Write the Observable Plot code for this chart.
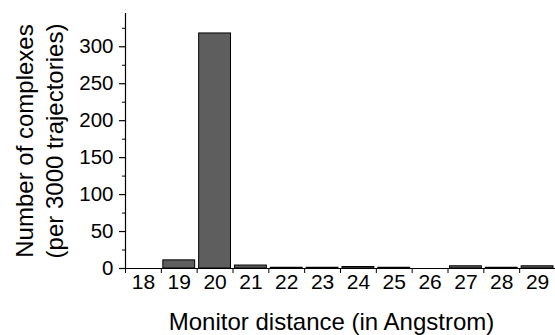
<!DOCTYPE html>
<html>
<head>
<meta charset="utf-8">
<script src="https://cdn.jsdelivr.net/npm/d3@7"></script>
<script src="https://cdn.jsdelivr.net/npm/@observablehq/plot@0.6"></script>
<style>
  html, body { margin: 0; padding: 0; background: white; }
</style>
</head>
<body>
<div id="chart"></div>
<script>
const distances = [18, 19, 20, 21, 22, 23, 24, 25, 26, 27, 28, 29];
const counts = [0, 11, 318, 4, 1, 1, 2, 1, 0, 3, 1, 3];
const yTicks = [0, 50, 100, 150, 200, 250, 300];
const yMinorTicks = [25, 75, 125, 175, 225, 275, 325];
const yTitle = ["Number of complexes", "(per 3000 trajectories)"];
const xTitle = "Monitor distance (in Angstrom)";

const data = distances.map((d, i) => ({dist: d, count: counts[i]}));
const boundaries = distances.map(d => d - 0.5).concat([distances[distances.length - 1] + 0.5]);

const chart = Plot.plot({
  width: 555,
  height: 335,
  marginLeft: 125,
  marginRight: 0,
  marginTop: 13,
  marginBottom: 67,
  style: {fontFamily: "Arial, 'Liberation Sans', sans-serif", fontSize: "19px", color: "black", background: "white", overflow: "visible"},
  x: {domain: [boundaries[0], boundaries[boundaries.length - 1]]},
  y: {domain: [0, 345]},
  marks: [
    Plot.rectY(data, {x1: d => d.dist - 0.5, x2: d => d.dist + 0.5, y: "count", insetLeft: 2, insetRight: 2, fill: "#5e5e5e", stroke: "black", strokeWidth: 1}),
    Plot.ruleY([0], {stroke: "black", strokeWidth: 1.2}),
    Plot.ruleX([boundaries[0]], {stroke: "black", strokeWidth: 1.2}),
    Plot.axisY(yTicks, {tickSize: 6, tickPadding: 6, fontSize: 20.5, label: null, strokeWidth: 1.2}),
    Plot.axisY(yMinorTicks, {tickSize: 3, tickFormat: () => "", label: null}),
    Plot.axisX(boundaries, {tickSize: 5, tickFormat: () => "", label: null}),
    Plot.axisX(distances, {tickSize: 0, tickPadding: 6, fontSize: 21, label: null}),
    Plot.text([xTitle], {frameAnchor: "bottom", dy: 54, dx: -9, fontSize: 24, lineAnchor: "middle"}),
    Plot.text([yTitle.join("\n")], {frameAnchor: "left", rotate: -90, dx: -87, fontSize: 24, lineHeight: 1.25, lineAnchor: "middle", textAnchor: "middle"})
  ]
});
document.getElementById("chart").appendChild(chart);
</script>
</body>
</html>
